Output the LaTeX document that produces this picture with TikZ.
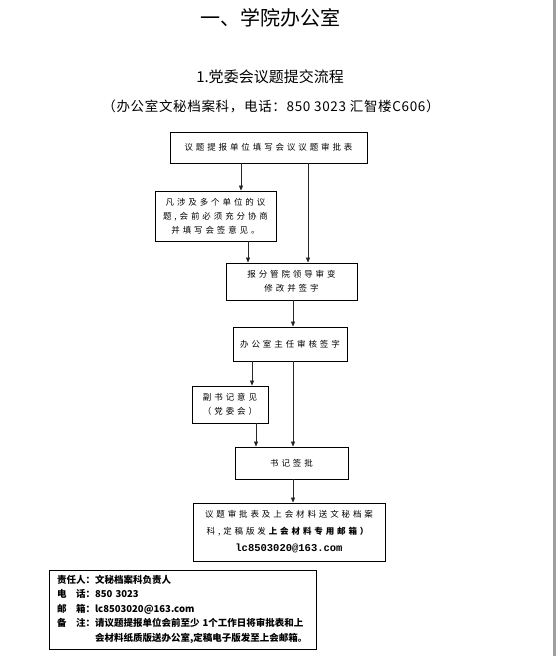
\documentclass[tikz,border=0pt]{standalone}
\usepackage{fontspec}
\setmainfont{Noto Sans CJK SC}
\newfontfamily\boxfont[LetterSpace=34]{Noto Sans CJK SC}
\newfontfamily\lianxifont[LetterSpace=5]{Noto Sans CJK SC}
\newfontfamily\mailfont{Liberation Mono}
\usetikzlibrary{arrows.meta}

\tikzset{
  liuchengkuang/.style={draw, line width=0.8pt, inner sep=0pt, align=center,
    font=\boxfont\fontsize{8.5}{14}\selectfont},
  jiantou/.style={draw=black!85, line width=0.7pt, -{Triangle[length=5pt,width=4pt]}},
}

\begin{document}
\begin{tikzpicture}[x=1pt, y=-1pt]
  \useasboundingbox (0,0) rectangle (556,656);
  % bord droit de la page
  \fill[gray!75] (553,0) rectangle (556,656);

  % Titres
  \node (biaoti) at (270,18) {\fontsize{20}{20}\selectfont 一、学院办公室};
  \node (fubiaoti) at (270,77) {\fontsize{15}{15}\selectfont 1.党委会议题提交流程};
  \node (lianxi) at (271,106) {\lianxifont\fontsize{13.5}{13.5}\selectfont （办公室文秘档案科，电话：850 3023 汇智楼C606）};

  % Cases du flux
  \node[liuchengkuang, minimum width=197pt, minimum height=31pt] (tibao) at (268.5,147.5) {议题提报单位填写会议议题审批表};
  \node[liuchengkuang, minimum width=121pt, minimum height=50pt] (huiqian) at (215.5,216) {凡涉及多个单位的议\\题,会前必须充分协商\\并填写会签意见。};
  \node[liuchengkuang, minimum width=131pt, minimum height=37pt] (lingdao) at (291.5,281.5) {报分管院领导审变\\修改并签字};
  \node[liuchengkuang, minimum width=114pt, minimum height=34pt] (zhuren) at (290,344) {办公室主任审核签字};
  \node[liuchengkuang, minimum width=76pt, minimum height=37pt] (fushuji) at (230,404.5) {副书记意见\\（党委会）};
  \node[liuchengkuang, minimum width=113pt, minimum height=32pt] (shuji) at (291.5,463) {书记签批};
  \node[liuchengkuang, minimum width=192pt, minimum height=58pt, font=\boxfont\fontsize{8.5}{17}\selectfont] (songjiao) at (289,532)
    {议题审批表及上会材料送文秘档案\\科,定稿版发\textbf{上会材料专用邮箱）}\\{\mailfont\bfseries\fontsize{10.5}{17}\selectfont lc8503020@163.com}};

  % Colonnes des fleches
  \coordinate (zuoA) at (241,0);
  \coordinate (youA) at (308,0);
  \coordinate (zuoB) at (248,0);
  \coordinate (zhong) at (293,0);
  \coordinate (zuoC) at (252,0);
  \coordinate (zuoD) at (256,0);

  % Fleches
  \draw[jiantou] (tibao.south -| zuoA) -- (huiqian.north -| zuoA);
  \draw[jiantou] (tibao.south -| youA) -- (lingdao.north -| youA);
  \draw[jiantou] (huiqian.south -| zuoB) -- (lingdao.north -| zuoB);
  \draw[jiantou] (lingdao.south -| zhong) -- (zhuren.north -| zhong);
  \draw[jiantou] (zhuren.south -| zuoC) -- (fushuji.north -| zuoC);
  \draw[jiantou] (zhuren.south -| zhong) -- (shuji.north -| zhong);
  \draw[jiantou] (fushuji.south -| zuoD) -- (shuji.north -| zuoD);
  \draw[jiantou] (shuji.south -| zhong) -- (songjiao.north -| zhong);

  % Encadre des responsables
  \node[draw, line width=0.8pt, text width=251pt, inner xsep=8pt, inner ysep=0pt,
    minimum height=79pt, align=left, font=\bfseries\fontsize{9.5}{14.5}\selectfont] (xinxi) at (182.5,609.5)
    {\begin{tabular}{@{}l@{}l@{}}
      责任人：& 文秘档案科负责人\\
      电　话：& 850 3023\\
      邮　箱：& lc8503020@163.com\\
      备　注：& 请议题提报单位会前至少 1个工作日将审批表和上\\
              & 会材料纸质版送办公室,定稿电子版发至上会邮箱。
    \end{tabular}};
\end{tikzpicture}
\end{document}
